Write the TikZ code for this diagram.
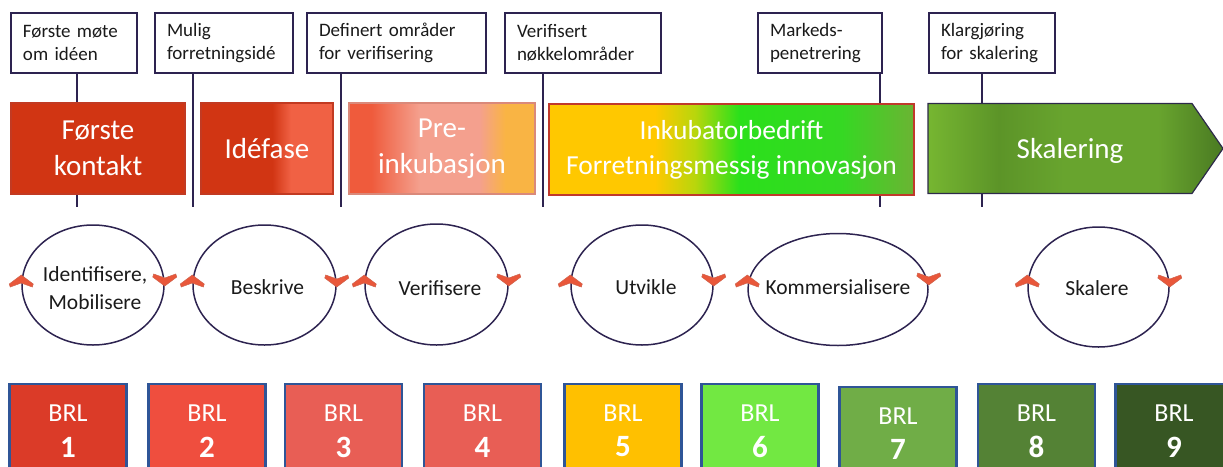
\documentclass[tikz,border=0pt]{standalone}
\usepackage{fontspec}
\setmainfont{Carlito}
\usetikzlibrary{shapes.geometric}
\definecolor{ink}{HTML}{2D2350}
\definecolor{txt}{HTML}{1A1A1A}
\definecolor{brlborder}{HTML}{2F5597}
\definecolor{chevfill}{HTML}{E9573A}
\definecolor{p1}{HTML}{D13513}
\definecolor{p1b}{HTML}{C23A22}
\definecolor{p2b}{HTML}{F06144}
\definecolor{p3a}{HTML}{EF5B3C}
\definecolor{p3b}{HTML}{F4A08E}
\definecolor{p3c}{HTML}{F9B444}
\definecolor{p4a}{HTML}{FFC800}
\definecolor{p4b}{HTML}{B8D60C}
\definecolor{p4c}{HTML}{2BE01B}
\definecolor{p4d}{HTML}{35D823}
\definecolor{p4e}{HTML}{6BB433}
\definecolor{p4border}{HTML}{C0392B}
\definecolor{p5a}{HTML}{76B631}
\definecolor{p5b}{HTML}{5C9428}
\definecolor{p5c}{HTML}{68A42E}
\definecolor{p5d}{HTML}{4A7A22}
\definecolor{p5border}{HTML}{2D2A4A}
\definecolor{brl1}{HTML}{DB3B28}
\definecolor{brl2}{HTML}{EF4E3E}
\definecolor{brl3}{HTML}{E85E55}
\definecolor{brl5}{HTML}{FFC000}
\definecolor{brl6}{HTML}{72E842}
\definecolor{brl7}{HTML}{70AD47}
\definecolor{brl8}{HTML}{548235}
\definecolor{brl9}{HTML}{375623}
\pgfdeclarehorizontalshading{ph2}{100bp}{color(0bp)=(p1); color(25bp)=(p1); color(52bp)=(p1); color(59bp)=(p2b); color(75bp)=(p2b); color(100bp)=(p2b)}
\pgfdeclarehorizontalshading{ph3}{100bp}{color(0bp)=(p3a); color(25bp)=(p3a); color(31bp)=(p3a); color(44bp)=(p3b); color(60bp)=(p3b); color(67bp)=(p3c); color(75bp)=(p3c); color(100bp)=(p3c)}
\pgfdeclarehorizontalshading{ph4}{100bp}{color(0bp)=(p4a); color(25bp)=(p4a); color(39.5bp)=(p4a); color(45bp)=(p4b); color(51bp)=(p4c); color(65bp)=(p4d); color(75bp)=(p4e); color(100bp)=(p4e)}
\pgfdeclarehorizontalshading{ph5}{100bp}{color(0bp)=(p5a); color(25bp)=(p5a); color(37bp)=(p5b); color(48bp)=(p5c); color(64bp)=(p5c); color(75bp)=(p5d); color(100bp)=(p5d)}
\begin{document}
\begin{tikzpicture}[x=1pt,y=-1pt,
  calloutbox/.style={draw=ink, line width=1.4pt, fill=white, align=left, inner xsep=12pt, inner ysep=0pt,
    minimum height=60pt, text=txt, font=\fontsize{19}{23}\selectfont},
  conn/.style={draw=ink, line width=1.4pt},
  phasebox/.style={line width=1.2pt, minimum height=91pt, inner sep=0pt, text=white, align=center,
    font=\fontsize{29}{36}\selectfont},
  cyc/.style={ellipse, draw=ink, line width=1.5pt, inner sep=0pt},
  lbl/.style={text=txt, align=center, inner sep=0pt, font=\fontsize{21.5}{28}\selectfont},
  chevst/.style={fill=chevfill, draw=chevfill!75!gray, line width=0.5pt},
  chevup/.pic={\filldraw[chevst] (0,0) -- (12,9) -- (11,12) -- (0,8) -- (-11,12) -- (-12,9) -- cycle;},
  chevdn/.pic={\filldraw[chevst] (0,0) -- (12,-9) -- (11,-12) -- (0,-8) -- (-11,-12) -- (-12,-9) -- cycle;},
  brlbox/.style={draw=brlborder, line width=2.5pt, minimum width=117pt, minimum height=100pt, inner sep=0pt},
  brltxt/.style={text=white, inner sep=0pt, font=\fontsize{26}{30}\selectfont},
  brlnum/.style={text=white, inner sep=0pt, font=\fontsize{31}{36}\selectfont\bfseries},
]
\useasboundingbox (0,0) rectangle (1223,466);
\clip (0,0) rectangle (1223,466);

% callout boxes
\node[calloutbox, text width=102pt] (c1) at (74,43) {Første møte\\om idéen};
\node[calloutbox, text width=114pt] (c2) at (224,43) {Mulig\\forretningsidé};
\node[calloutbox, text width=155pt] (c3) at (396.5,43) {Definert områder\\for verifisering};
\node[calloutbox, text width=132pt] (c4) at (583,43) {Verifisert\\nøkkelområder};
\node[calloutbox, text width=100pt] (c5) at (820,43) {Markeds-\\penetrering};
\node[calloutbox, text width=102pt] (c6) at (992,43) {Klargjøring\\for skalering};

% connectors
\coordinate (l1) at (77,207);
\coordinate (l2) at (193,207);
\coordinate (l3) at (341,207);
\coordinate (l4) at (543,207);
\coordinate (l5) at (880,207);
\coordinate (l6) at (982,207);
\draw[conn] (c1.south -| l1) -- (l1);
\draw[conn] (c2.south -| l2) -- (l2);
\draw[conn] (c3.south -| l3) -- (l3);
\draw[conn] (c4.south -| l4) -- (l4);
\draw[conn] (c5.south -| l5) -- (l5);
\draw[conn] (c6.south -| l6) -- (l6);

% phases
\node[phasebox, fill=p1, draw=p1b, minimum width=174pt] (p1) at (98,148.5) {Første\\kontakt};
\node[phasebox, shade, shading=ph2, draw=p1b, minimum width=132pt] (p2) at (267,148.5) {Idéfase};
\node[phasebox, shade, shading=ph3, draw=p1b!60, minimum width=186pt] (p3) at (442,148.5) {Pre-\\inkubasjon};
\node[phasebox, shade, shading=ph4, draw=p4border, minimum width=365pt, font=\fontsize{27.5}{35}\selectfont] (p4) at (731.5,149.5) {Inkubatorbedrift\\Forretningsmessig innovasjon};
\path[shade, shading=ph5, draw=p5border, line width=1.2pt] (928,103.5) -- (1192,103.5) -- (1223,148.5) -- (1192,193.5) -- (928,193.5) -- cycle;
\node[phasebox, minimum height=0pt] (p5) at (1070,151) {Skalering};

% cycles
\node[cyc, minimum width=142pt, minimum height=120pt] (e1) at (93,285) {};
\node[cyc, minimum width=143pt, minimum height=120pt] (e2) at (264.5,285) {};
\node[cyc, minimum width=143pt, minimum height=121pt] (e3) at (436.5,284.5) {};
\node[cyc, minimum width=142pt, minimum height=120pt] (e4) at (642,285) {};
\node[cyc, minimum width=180pt, minimum height=112pt] (e5) at (838,289.5) {};
\node[cyc, minimum width=141pt, minimum height=120pt] (e6) at (1098.5,287) {};

\node[lbl] (t1) at (95,288) {Identifisere,\\Mobilisere};
\node[lbl] (t2) at (267.5,287) {Beskrive};
\node[lbl] (t3) at (440,288) {Verifisere};
\node[lbl] (t4) at (646,287) {Utvikle};
\node[lbl] (t5) at (838,287) {Kommersialisere};
\node[lbl] (t6) at (1097,288) {Skalere};

\pic at ([yshift=10pt]e1.west) {chevup};
\pic at ([yshift=-1pt]e1.east) {chevdn};
\pic at ([yshift=10pt]e2.west) {chevup};
\pic at ([yshift=-2pt]e2.east) {chevdn};
\pic at ([yshift=9.5pt]e3.west) {chevup};
\pic at ([yshift=-1.5pt]e3.east) {chevdn};
\pic at ([yshift=10pt]e4.west) {chevup};
\pic at ([yshift=-1pt]e4.east) {chevdn};
\pic at ([yshift=14.5pt]e5.west) {chevup};
\pic at ([yshift=4.5pt]e5.east) {chevdn};
\pic at ([yshift=12pt]e6.west) {chevup};
\pic at ([yshift=0pt]e6.east) {chevdn};

% BRL boxes
\node[brlbox, fill=brl1] (b1) at (68,434) {};
\node[brlbox, fill=brl2] (b2) at (207,434) {};
\node[brlbox, fill=brl3] (b3) at (343.5,434) {};
\node[brlbox, fill=brl3] (b4) at (482.5,434) {};
\node[brlbox, fill=brl5] (b5) at (623,434) {};
\node[brlbox, fill=brl6] (b6) at (760,434) {};
\node[brlbox, fill=brl7] (b7) at (898,437) {};
\node[brlbox, fill=brl8] (b8) at (1036.5,434) {};
\node[brlbox, fill=brl9] (b9) at (1174,434) {};

\node[brltxt] (b1t) at (68,413) {BRL};
\node[brlnum] (b1n) at (68,447) {1};
\node[brltxt] (b2t) at (207,413) {BRL};
\node[brlnum] (b2n) at (207,447) {2};
\node[brltxt] (b3t) at (343.5,413) {BRL};
\node[brlnum] (b3n) at (343.5,447) {3};
\node[brltxt] (b4t) at (482.5,413) {BRL};
\node[brlnum] (b4n) at (482.5,447) {4};
\node[brltxt] (b5t) at (623,413) {BRL};
\node[brlnum] (b5n) at (623,447) {5};
\node[brltxt] (b6t) at (760,413) {BRL};
\node[brlnum] (b6n) at (760,447) {6};
\node[brltxt] (b7t) at (898,416) {BRL};
\node[brlnum] (b7n) at (898,449) {7};
\node[brltxt] (b8t) at (1036.5,413) {BRL};
\node[brlnum] (b8n) at (1036.5,447) {8};
\node[brltxt] (b9t) at (1174,413) {BRL};
\node[brlnum] (b9n) at (1174,447) {9};
\end{tikzpicture}
\end{document}
